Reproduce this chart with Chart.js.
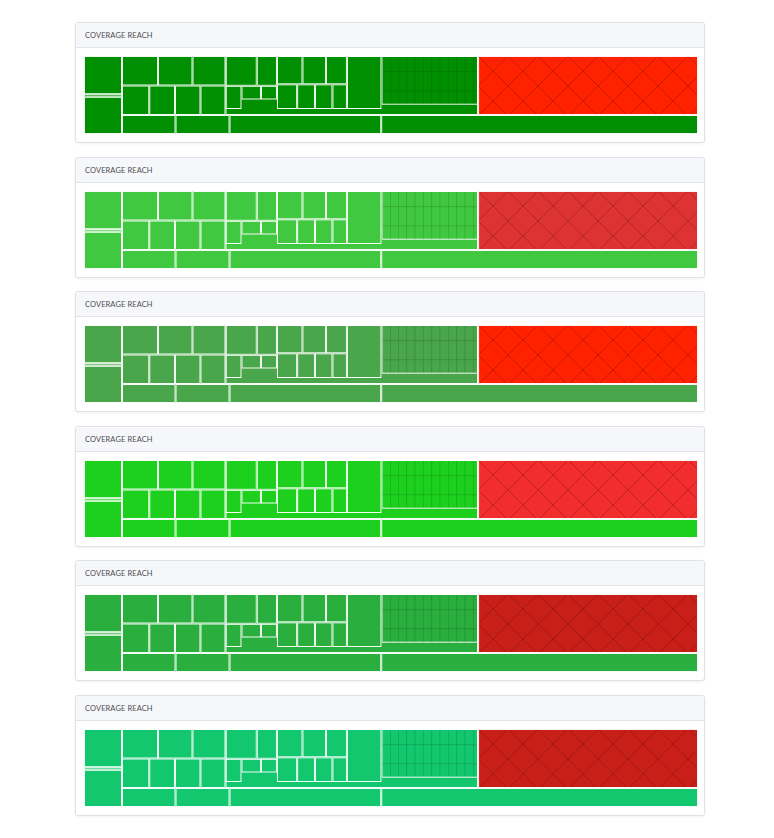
<!DOCTYPE html>
<html>
<head>
<meta charset="utf-8">
<script src="https://cdn.jsdelivr.net/npm/chart.js@4.4.1/dist/chart.umd.min.js"></script>
<style>
  html, body { margin: 0; padding: 0; background: #ffffff; }
  body { width: 774px; height: 838px; position: relative; overflow: hidden; font-family: Lato, "Open Sans", sans-serif; }
  .card { position: absolute; left: 75px; width: 630px; height: 121px; box-sizing: border-box;
          border: 1px solid #e0e1e7; border-radius: 3px; background: #fff;
          box-shadow: 0 1px 3px rgba(0,0,0,0.06); overflow: hidden; }
  .hdr { position: absolute; left: 0; top: 0; right: 0; height: 24px; background: #f6f7fb;
         border-bottom: 1px solid #e3e4ea; font-size: 7.5px; color: #4d4d4d; line-height: 25px;
         padding-left: 9px; letter-spacing: 0.1px; }
  .plot { position: absolute; left: 8px; top: 33px; width: 614px; height: 78px; }
</style>
</head>
<body>
<script>
// ---- data (reach values per cell; layout is derived from these values) ----
const chartTitle = 'COVERAGE REACH';
const cardTops = [22, 157, 291, 426, 560, 695];
const greenShades = ['#008f00', '#40c840', '#4aa64a', '#1dd01d', '#2aae3e', '#12c76e'];
const redShades   = ['#ff2200', '#dd3333', '#ff2200', '#f22d2d', '#c82018', '#c82018'];

const leftStack        = [1452, 99, 1414];
const blockARowTop     = [1062, 1018, 974];
const blockARowBottom  = [805, 758, 752, 738];
const clusterOneTop    = [933, 602];
const clusterOneSide   = 371;
const clusterOneInner  = [267, 219];
const clusterOneRest   = 337;
const clusterTwoTop    = [722, 665, 594];
const clusterTwoBottom = [499, 440, 432, 358];
const clusterThree     = 1829;
const clusterRest      = 936;
const gridColumns = [
  [142, 172, 124], [126, 153, 110], [131, 159, 115], [131, 159, 115],
  [133, 160, 116], [131, 159, 115], [131, 159, 115], [133, 160, 116],
  [131, 159, 115], [131, 159, 115], [133, 160, 116], [73, 88, 63]
];
const gridRemainder = 994;
const hotspot       = 12980;
const bottomBand    = [1017, 1026, 2882, 6019];

// ---- tree built from the arrays ----
const leaf = (v, kind) => ({ value: v, kind: kind || 'cell' });
const gap = v => ({ value: v, kind: 'gap' });
const split = (dir, children, opts) => Object.assign({ dir, children, value: children.reduce((s, c) => s + c.value, 0) }, opts || {});

const tree = split('h', [
  split('v', leftStack.map(v => leaf(v))),
  split('v', [
    split('h', [
      split('v', [split('h', blockARowTop.map(v => leaf(v))), split('h', blockARowBottom.map(v => leaf(v)))]),
      split('h', [
        split('v', [
          split('h', [
            split('v', [
              split('h', clusterOneTop.map(v => leaf(v))),
              split('h', [leaf(clusterOneSide), split('v', [split('h', clusterOneInner.map(v => leaf(v))), gap(clusterOneRest)])])
            ]),
            split('v', [split('h', clusterTwoTop.map(v => leaf(v))), split('h', clusterTwoBottom.map(v => leaf(v)))]),
            leaf(clusterThree)
          ]),
          gap(clusterRest)
        ]),
        split('v', [
          split('h', gridColumns.map(col => split('v', col.map(v => leaf(v, 'grid')))), { framed: true }),
          gap(gridRemainder)
        ])
      ], { framed: true }),
      leaf(hotspot, 'hot')
    ]),
    split('h', bottomBand.map(v => leaf(v)))
  ])
]);

// slice-and-dice layout in data units (0..100 on both axes)
function layout(n, x0, y0, x1, y1) {
  n.r = { x0, y0, x1, y1 };
  if (!n.children) return;
  let acc = 0;
  n.children.forEach(c => {
    const f0 = acc / n.value; acc += c.value; const f1 = acc / n.value;
    if (n.dir === 'h') layout(c, x0 + (x1 - x0) * f0, y0, x0 + (x1 - x0) * f1, y1);
    else layout(c, x0, y0 + (y1 - y0) * f0, x1, y0 + (y1 - y0) * f1);
  });
}
layout(tree, 0, 0, 100, 100);

const treemapPlugin = {
  id: 'treemapCells',
  afterDatasetsDraw(chart, args, opts) {
    const ctx = chart.ctx, xs = chart.scales.x, ys = chart.scales.y;
    const toPx = r => {
      const a = xs.getPixelForValue(r.x0), b = xs.getPixelForValue(r.x1);
      const c = ys.getPixelForValue(r.y0), d = ys.getPixelForValue(r.y1);
      return { x: Math.min(a, b), y: Math.min(c, d), w: Math.abs(b - a), h: Math.abs(d - c) };
    };
    function hatch(p) {
      ctx.save();
      ctx.beginPath(); ctx.rect(p.x, p.y, p.w, p.h); ctx.clip();
      ctx.strokeStyle = 'rgba(60,0,0,0.26)'; ctx.lineWidth = 1;
      const step = 30;
      ctx.beginPath();
      for (let k = -Math.ceil(p.h / step) - 2; k * step < p.w + p.h + step; k++) {
        const sx = p.x + k * step;
        ctx.moveTo(sx, p.y); ctx.lineTo(sx + p.h + step, p.y + p.h + step);
        ctx.moveTo(sx, p.y); ctx.lineTo(sx - p.h - step, p.y + p.h + step);
      }
      ctx.stroke();
      ctx.restore();
    }
    function draw(n) {
      if (n.kind === 'gap') return;
      const p = toPx(n.r);
      const filled = !n.children || n.framed;
      if (filled) {
        ctx.fillStyle = n.kind === 'hot' ? opts.red : opts.green;
        ctx.fillRect(p.x, p.y, p.w, p.h);
      }
      if (n.kind === 'hot') hatch(p);
      if (n.children) n.children.forEach(draw);
      if (n.kind === 'grid') {
        ctx.strokeStyle = 'rgba(0,40,0,0.12)'; ctx.lineWidth = 0.8;
        ctx.strokeRect(p.x, p.y, p.w, p.h);
      } else if (filled) {
        ctx.strokeStyle = 'rgba(255,255,255,0.95)'; ctx.lineWidth = 1;
        ctx.strokeRect(p.x + 0.5, p.y + 0.5, p.w - 1, p.h - 1);
      }
    }
    draw(tree);
  }
};

cardTops.forEach((top, i) => {
  const card = document.createElement('div');
  card.className = 'card'; card.style.top = top + 'px';
  const hdr = document.createElement('div'); hdr.className = 'hdr'; hdr.textContent = chartTitle;
  const plot = document.createElement('div'); plot.className = 'plot';
  const cv = document.createElement('canvas');
  plot.appendChild(cv); card.appendChild(hdr); card.appendChild(plot);
  document.body.appendChild(card);
  new Chart(cv, {
    type: 'scatter',
    data: { datasets: [{ data: [], pointRadius: 0 }] },
    options: {
      responsive: true, maintainAspectRatio: false, animation: false, devicePixelRatio: 1,
      layout: { padding: 0 },
      scales: {
        x: { type: 'linear', min: 0, max: 100, display: false },
        y: { type: 'linear', min: 0, max: 100, reverse: true, display: false }
      },
      plugins: { legend: { display: false }, tooltip: { enabled: false },
                 treemapCells: { green: greenShades[i], red: redShades[i] } }
    },
    plugins: [treemapPlugin]
  });
});
</script>
</body>
</html>
